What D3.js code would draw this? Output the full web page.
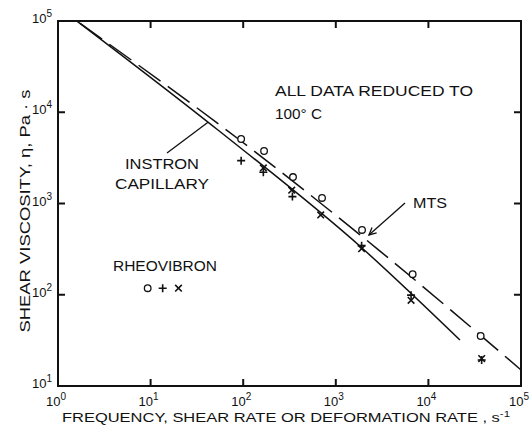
<!DOCTYPE html>
<html>
<head>
<meta charset="utf-8">
<script src="https://cdn.jsdelivr.net/npm/d3@7"></script>
<style>
  html, body { margin: 0; padding: 0; background: #fff; }
  svg { display: block; }
  text { font-family: "Liberation Sans", Arial, sans-serif; fill: #111; }
</style>
</head>
<body>
<svg id="chart" width="530" height="438"></svg>
<script>
// Decade tick positions on both log axes
const xTickExponents = [0, 1, 2, 3, 4, 5];
const yTickExponents = [1, 2, 3, 4, 5];

// MTS (open circles): [rate, viscosity]
const mtsPoints = [[95, 5090], [168, 3760], [345, 1950], [710, 1150], [1920, 513], [6760, 168], [36700, 35.3]];

// Instron capillary: plus and cross markers
const instronPlus = [[95, 2950], [165, 2200], [340, 1190], [1900, 345], [6500, 99], [37600, 19.3]];
const instronCross = [[165, 2450], [334, 1400], [687, 750], [1900, 320], [6500, 87], [37600, 20]];

// Rheovibron points
const rheoCircle = [[9.3, 118]];
const rheoPlus = [[13.5, 118]];
const rheoCross = [[20, 118]];

// Fitted curves through the data (solid: Instron, dashed: MTS)
const solidCurve = [[1.6, 100000], [53.4, 6390], [1919, 325], [21900, 31.9]];
const dashedCurve = [[1.6, 100000], [94.7, 4840], [3000, 301], [100000, 15.0]];

// Leader targets
const instronLeaderEnd = [41.7, 7760];
const mtsArrowTip = [2280, 452];

const svg = d3.select("#chart");
const x = d3.scaleLog().domain([1, 1e5]).range([58, 521]);
const y = d3.scaleLog().domain([10, 1e5]).range([386, 21]);

const ink = "#111";

// frame
svg.append("rect")
  .attr("x", x(1)).attr("y", y(1e5))
  .attr("width", x(1e5) - x(1)).attr("height", y(10) - y(1e5))
  .attr("fill", "none").attr("stroke", ink).attr("stroke-width", 2);

// inward ticks on all four sides
const tl = 7;
const g = svg.append("g").attr("stroke", ink).attr("stroke-width", 2);
xTickExponents.slice(1, -1).forEach(e => {
  const px = x(Math.pow(10, e));
  g.append("line").attr("x1", px).attr("x2", px).attr("y1", y(10)).attr("y2", y(10) - tl);
  g.append("line").attr("x1", px).attr("x2", px).attr("y1", y(1e5)).attr("y2", y(1e5) + tl);
});
yTickExponents.slice(1, -1).forEach(e => {
  const py = y(Math.pow(10, e));
  g.append("line").attr("x1", x(1)).attr("x2", x(1) + tl).attr("y1", py).attr("y2", py);
  g.append("line").attr("x1", x(1e5)).attr("x2", x(1e5) - tl).attr("y1", py).attr("y2", py);
});

// tick labels as 10 with superscript exponent
function powLabel(sel, e) {
  sel.append("tspan").text("10");
  sel.append("tspan").attr("dy", -6).attr("font-size", 10).text(e);
}
xTickExponents.forEach(e => {
  const t = svg.append("text")
    .attr("x", x(Math.pow(10, e)) - 2).attr("y", 406)
    .attr("text-anchor", "middle").attr("font-size", 13);
  powLabel(t, e);
});
yTickExponents.forEach(e => {
  const t = svg.append("text")
    .attr("x", 52).attr("y", y(Math.pow(10, e)) + 2)
    .attr("text-anchor", "end").attr("font-size", 13);
  powLabel(t, e);
});

// axis titles
const xt = svg.append("text")
  .attr("x", 62).attr("y", 422).attr("font-size", 13)
  .attr("textLength", 448).attr("lengthAdjust", "spacingAndGlyphs");
xt.append("tspan").text("FREQUENCY, SHEAR RATE OR DEFORMATION RATE , s");
xt.append("tspan").attr("dy", -5).attr("font-size", 9).text("-1");

svg.append("text")
  .attr("transform", "translate(30,211) rotate(-90)")
  .attr("text-anchor", "middle").attr("font-size", 14)
  .attr("textLength", 243).attr("lengthAdjust", "spacingAndGlyphs")
  .text("SHEAR VISCOSITY, \u03B7, Pa \u00B7 s");

// fitted curves
const line = d3.line().x(d => x(d[0])).y(d => y(d[1])).curve(d3.curveMonotoneX);
svg.append("path").attr("d", line(solidCurve))
  .attr("fill", "none").attr("stroke", ink).attr("stroke-width", 1.5);
svg.append("path").attr("d", line(dashedCurve))
  .attr("fill", "none").attr("stroke", ink).attr("stroke-width", 1.5)
  .attr("stroke-dasharray", "27,9").attr("stroke-dashoffset", -40);

// markers
function circles(data) {
  svg.append("g").selectAll("circle").data(data).join("circle")
    .attr("cx", d => x(d[0])).attr("cy", d => y(d[1])).attr("r", 3.3)
    .attr("fill", "#fff").attr("stroke", ink).attr("stroke-width", 1.3);
}
function pluses(data) {
  const s = 4;
  svg.append("g").selectAll("path").data(data).join("path")
    .attr("d", d => {
      const cx = x(d[0]), cy = y(d[1]);
      return `M${cx - s},${cy}H${cx + s}M${cx},${cy - s}V${cy + s}`;
    })
    .attr("stroke", ink).attr("stroke-width", 1.6);
}
function crosses(data) {
  const s = 3.3;
  svg.append("g").selectAll("path").data(data).join("path")
    .attr("d", d => {
      const cx = x(d[0]), cy = y(d[1]);
      return `M${cx - s},${cy - s}L${cx + s},${cy + s}M${cx - s},${cy + s}L${cx + s},${cy - s}`;
    })
    .attr("stroke", ink).attr("stroke-width", 1.6);
}
circles(mtsPoints);
pluses(instronPlus);
crosses(instronCross);
circles(rheoCircle);
pluses(rheoPlus);
crosses(rheoCross);

// annotations
function label(txt, px, py, len, size) {
  svg.append("text").attr("x", px).attr("y", py).attr("font-size", size || 15)
    .attr("textLength", len).attr("lengthAdjust", "spacingAndGlyphs").text(txt);
}
label("ALL DATA REDUCED TO", 275, 96, 198);
label("100\u00B0 C", 275, 119, 47);
label("INSTRON", 125, 169, 74);
label("CAPILLARY", 115, 189, 94);
label("RHEOVIBRON", 113, 271, 104);
label("MTS", 413, 208, 34);

// INSTRON leader to the solid curve
svg.append("line")
  .attr("x1", 167).attr("y1", 153)
  .attr("x2", x(instronLeaderEnd[0])).attr("y2", y(instronLeaderEnd[1]))
  .attr("stroke", ink).attr("stroke-width", 1.3);

// MTS arrow to the dashed curve
const tip = [x(mtsArrowTip[0]), y(mtsArrowTip[1])];
svg.append("line").attr("x1", 405).attr("y1", 203).attr("x2", tip[0]).attr("y2", tip[1])
  .attr("stroke", ink).attr("stroke-width", 1.3);
const ang = Math.atan2(203 - tip[1], 405 - tip[0]);
const ah = 8, spread = 0.45;
svg.append("path")
  .attr("d", `M${tip[0] + ah * Math.cos(ang - spread)},${tip[1] + ah * Math.sin(ang - spread)}L${tip[0]},${tip[1]}L${tip[0] + ah * Math.cos(ang + spread)},${tip[1] + ah * Math.sin(ang + spread)}`)
  .attr("fill", "none").attr("stroke", ink).attr("stroke-width", 1.3);
</script>
</body>
</html>
